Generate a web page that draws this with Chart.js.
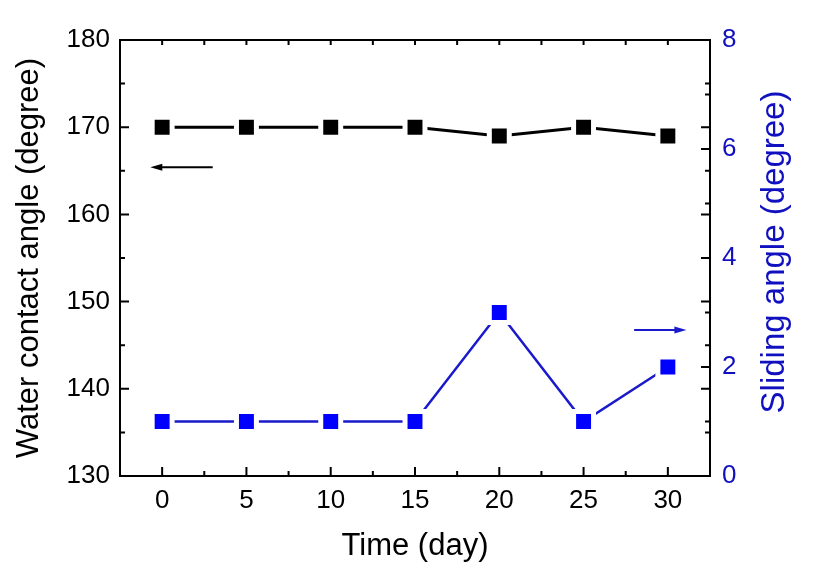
<!DOCTYPE html>
<html>
<head>
<meta charset="utf-8">
<script src="https://cdn.jsdelivr.net/npm/chart.js@4/dist/chart.umd.min.js"></script>
<style>
  html, body { margin: 0; padding: 0; background: #fff; }
  #wrap { width: 813px; height: 575px; }
</style>
</head>
<body>
<div id="wrap"><canvas id="myChart" width="813" height="575"></canvas></div>
<script>
// data
const days = [0, 5, 10, 15, 20, 25, 30]
const contactAngle = [170, 170, 170, 170, 169, 170, 169]
const slidingAngle = [1, 1, 1, 1, 3, 1, 2]

// arrows pointing to the axis of each series, in data units [x1, x2, y]
const leftArrow = [3, -0.7, 165.4]
const rightArrow = [28, 31.1, 2.68]

const blue = '#0000ff'
const blueLine = '#1a1acc'
const blueText = '#1010c0'
const font = 'Arial, "Liberation Sans", sans-serif'
const rightTitle = 'Sliding angle (degree)'

// inward ticks, mirrored ticks, frame, arrows and the right title (reads upward)
const framePlugin = {
    id: 'frame',
    afterDraw(chart) {
        const ctx = chart.ctx
        const a = chart.chartArea
        const x = chart.scales.x
        const y = chart.scales.y
        const y1 = chart.scales.y1
        ctx.save()
        ctx.strokeStyle = '#000'
        ctx.lineWidth = 2
        ctx.beginPath()
        // x ticks (bottom + top)
        for (let v = -2.5; v <= 32.5; v += 2.5) {
            const px = x.getPixelForValue(v)
            if (px <= a.left + 1 || px >= a.right - 1) continue
            const major = v % 5 === 0
            ctx.moveTo(px, a.bottom); ctx.lineTo(px, a.bottom - (major ? 9 : 5))
            ctx.moveTo(px, a.top); ctx.lineTo(px, a.top + 5)
        }
        // left ticks (left + mirrored on right)
        for (let v = 135; v < 180; v += 5) {
            const py = y.getPixelForValue(v)
            const major = v % 10 === 0
            ctx.moveTo(a.left, py); ctx.lineTo(a.left + (major ? 9 : 5), py)
            ctx.moveTo(a.right, py); ctx.lineTo(a.right - (major ? 9 : 5), py)
        }
        // right ticks
        for (let v = 1; v < 8; v += 1) {
            const py = y1.getPixelForValue(v)
            const major = v % 2 === 0
            ctx.moveTo(a.right, py); ctx.lineTo(a.right - (major ? 9 : 5), py)
        }
        ctx.stroke()
        ctx.strokeRect(a.left, a.top, a.right - a.left, a.bottom - a.top)

        const arrow = (spec, scaleY, color) => {
            const x1 = x.getPixelForValue(spec[0])
            const x2 = x.getPixelForValue(spec[1])
            const py = scaleY.getPixelForValue(spec[2])
            const dir = Math.sign(x2 - x1)
            ctx.strokeStyle = color
            ctx.fillStyle = color
            ctx.lineWidth = 2
            ctx.beginPath()
            ctx.moveTo(x1, py); ctx.lineTo(x2 - dir * 8, py)
            ctx.stroke()
            ctx.beginPath()
            ctx.moveTo(x2, py)
            ctx.lineTo(x2 - dir * 12, py - 3.5)
            ctx.lineTo(x2 - dir * 12, py + 3.5)
            ctx.closePath()
            ctx.fill()
        }
        arrow(leftArrow, y, '#000')
        arrow(rightArrow, y1, blueLine)

        ctx.translate(y1.right - 38, (a.top + a.bottom) / 2 - 6)
        ctx.rotate(-Math.PI / 2)
        ctx.fillStyle = blueText
        ctx.font = '33px ' + font
        ctx.textAlign = 'center'
        ctx.textBaseline = 'middle'
        ctx.fillText(rightTitle, 0, 0)
        ctx.restore()
    }
}

const ctx = document.getElementById('myChart').getContext('2d')
new Chart(ctx, {
    type: 'line',
    data: {
        datasets: [
            {
                label: 'Water contact angle',
                data: days.map((d, i) => ({ x: d, y: contactAngle[i] })),
                yAxisID: 'y',
                borderColor: '#000',
                borderWidth: 3,
                pointStyle: 'rect',
                pointRadius: 14.1,
                pointBorderWidth: 5,
                pointBorderColor: '#fff',
                pointBackgroundColor: '#000',
            },
            {
                label: 'Sliding angle',
                data: days.map((d, i) => ({ x: d, y: slidingAngle[i] })),
                yAxisID: 'y1',
                borderColor: blueLine,
                borderWidth: 2.5,
                pointStyle: 'rect',
                pointRadius: 14.1,
                pointBorderWidth: 5,
                pointBorderColor: '#fff',
                pointBackgroundColor: blue,
            },
        ],
    },
    options: {
        responsive: false,
        animation: false,
        layout: { padding: { top: 40 } },
        plugins: {
            legend: { display: false },
            tooltip: { enabled: false },
        },
        scales: {
            x: {
                type: 'linear',
                min: -2.5,
                max: 32.5,
                afterFit: (s) => { s.height = 99 },
                afterBuildTicks: (s) => { s.ticks = days.map((d) => ({ value: d })) },
                grid: { display: false, drawTicks: false },
                border: { display: false },
                ticks: { color: '#000', padding: 9, font: { family: font, size: 26 } },
                title: {
                    display: true,
                    text: 'Time (day)',
                    color: '#000',
                    padding: { top: 0, bottom: 10 },
                    font: { family: font, size: 31 },
                },
            },
            y: {
                position: 'left',
                min: 130,
                max: 180,
                afterFit: (s) => { s.width = 120 },
                grid: { display: false, drawTicks: false },
                border: { display: false },
                ticks: { stepSize: 10, color: '#000', padding: 10, font: { family: font, size: 26 } },
                title: {
                    display: true,
                    text: 'Water contact angle (degree)',
                    color: '#000',
                    padding: { top: 11, bottom: 0 },
                    font: { family: font, size: 31 },
                },
            },
            y1: {
                position: 'right',
                min: 0,
                max: 8,
                afterFit: (s) => { s.width = 103 },
                grid: { display: false, drawTicks: false },
                border: { display: false },
                ticks: { stepSize: 2, color: blueText, padding: 12, font: { family: font, size: 26 } },
            },
        },
    },
    plugins: [framePlugin],
})
</script>
</body>
</html>
